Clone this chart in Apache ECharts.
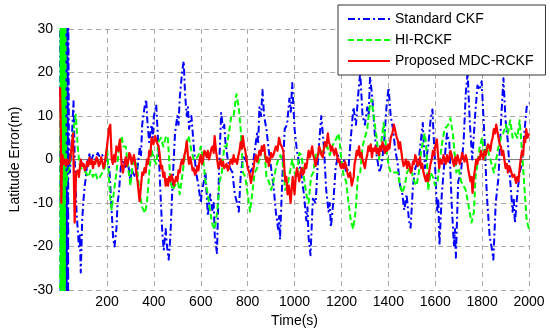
<!DOCTYPE html>
<html>
<head>
<meta charset="utf-8">
<script src="https://cdn.jsdelivr.net/npm/echarts@6/dist/echarts.min.js"></script>
<style>
html,body{margin:0;padding:0;background:#fff;}
#chart{width:550px;height:333px;}
</style>
</head>
<body>
<div id="chart"></div>
<script>
const seriesNames = ['Standard CKF', 'HI-RCKF', 'Proposed MDC-RCKF'];
const xTicks = [200, 400, 600, 800, 1000, 1200, 1400, 1600, 1800, 2000];
const yTicks = [-30, -20, -10, 0, 10, 20, 30];

// [time (s), latitude error (m)]
const standardCKF = [[0,40],[2,-40],[4,40],[6,-40],[8,40],[10,-40],[12,40],[14,-40],[16,40],[18,-40],[20,40],[22,-40],[24,40],[26,-40],[28,40],[30,-40],[32,40],[34,-40],[35,30],[38,-2],[42,-3],[50,5],[57,13.4],[63,-2],[70,-12],[75,-16],[80,-20],[84,-17],[88,-26],[94,-14],[100,-9],[105,-6],[110,-4],[115,-1],[120,0],[125,1.2],[130,-1],[140,1],[150,0],[160,1.5],[170,0.5],[180,1],[190,0],[200,0],[210,-2],[220,-12],[226,-18],[232,-20],[240,-16],[245,-10],[250,-8],[260,-1],[270,0],[280,-2],[290,-1],[300,-5],[305,-2],[310,-3],[320,-4],[330,-2],[340,3],[345,1],[350,8],[360,12],[367,13.8],[373,8],[380,4],[385,6],[390,8],[395,5],[400,10],[410,12.6],[420,2],[430,-10],[436,-17],[442,-20.7],[450,-16],[456,-20],[463,-23],[470,-18],[480,-5],[490,6],[500,10],[505,8],[510,14],[520,20],[527,22.6],[533,15],[540,10],[545,12],[550,7],[560,10],[570,3],[580,-3],[590,-6],[600,-10],[605,-7],[610,-6],[620,-3],[630,-13],[640,-8],[650,-12],[655,-10],[660,-18],[669,-21.5],[678,-2],[687,10.7],[695,7],[700,8],[705,4],[715,0],[725,-2],[735,-3],[745,-8],[755,-10],[762,-12],[770,-4],[780,1],[790,0],[800,-1],[810,-3],[820,-2],[830,2],[840,6],[845,4],[850,12],[857,10],[863,16],[870,10],[880,7],[890,2],[900,-2],[910,-6],[920,-12],[930,-16],[934,-13],[938,-18.4],[948,-4],[958,7],[968,8],[978,14],[984,11],[990,17.6],[1000,7],[1010,2],[1020,-1],[1030,-4],[1040,-8],[1050,-14],[1055,-11],[1060,-18],[1068,-22],[1078,-9],[1090,-10],[1100,0],[1108,6],[1114,10],[1125,3],[1135,-7],[1145,-12],[1150,-10],[1155,-15.5],[1165,-10],[1175,-2],[1185,1],[1195,-1],[1210,0],[1220,-3],[1230,-2],[1240,5],[1251,12],[1262,8],[1270,14],[1280,20],[1290,10],[1300,8],[1310,12],[1316,10],[1322,19],[1332,14],[1342,6],[1350,1],[1362,-3],[1372,-1],[1382,4],[1392,12],[1401,16.5],[1410,10],[1420,7],[1430,2],[1440,-1],[1450,-6],[1460,-8],[1468,-11.6],[1478,-8],[1488,-14],[1495,-15.7],[1505,-6],[1515,-2],[1530,0],[1540,5],[1547,8.4],[1556,-2],[1570,3],[1580,9],[1588,11.5],[1598,0],[1608,-12],[1613,-9],[1618,-19.7],[1628,-8],[1640,0],[1650,6],[1660,4],[1670,-10],[1680,-20],[1684,-16],[1688,-22.6],[1698,-5],[1710,-3],[1722,5],[1730,15],[1738,20],[1748,8],[1758,0],[1770,10],[1780,17],[1790,16],[1798,18],[1810,5],[1820,-8],[1832,-17.6],[1840,-20],[1848,-23],[1858,-10],[1870,-4],[1880,8],[1891,18.7],[1900,9],[1910,4],[1920,-5],[1930,-12],[1935,-9],[1940,-14.6],[1950,-8],[1960,-3],[1970,-1],[1980,6],[1990,12],[2000,13]];

const hiRCKF = [[0,-40],[2,40],[4,-40],[6,40],[8,-40],[10,40],[12,-40],[14,40],[16,-40],[18,40],[20,-40],[22,40],[23,30],[26,-6],[32,-3],[40,-2],[50,3],[60,8],[67,10.3],[75,3],[82,-1],[90,-2],[100,-2.5],[110,-3],[120,-4],[130,-2.5],[140,-4],[150,-3],[160,-4.6],[170,-4],[180,-3],[190,-2],[200,3],[207,-3],[214,-9],[220,-11.5],[228,-8],[240,-3],[250,2],[262,5.4],[270,3],[280,3],[290,-2],[300,-6],[310,-1],[320,0],[330,-3],[340,-8],[350,-11],[362,-12.3],[370,-10],[380,-3],[390,2.3],[400,0],[410,-1],[420,4],[430,5],[440,3],[450,5],[459,5.4],[470,-5],[480,-7],[490,-6],[500,-4],[510,-8],[520,-4],[530,0],[540,4],[548,5.4],[560,2],[570,0],[580,0],[590,1],[600,3],[610,0],[620,-5],[630,-8],[640,-12],[650,-15],[659,-16],[670,-12],[680,-5],[690,-3],[700,3],[710,3],[720,6],[730,10],[740,10],[752,15],[762,12],[770,7],[780,-3],[790,-4],[800,-8],[810,-12],[818,-12.3],[830,-3],[840,-2],[850,0],[860,3],[870,3],[880,-4],[890,-5],[900,-7],[910,-5],[920,-2],[930,0],[940,1],[950,-1],[960,-7],[970,-6],[980,-3],[990,0],[1000,-3],[1010,-4],[1020,1.5],[1030,1],[1040,-4],[1050,-8],[1060,-10],[1070,-4],[1080,-3],[1090,1],[1100,1.5],[1110,1.5],[1120,2],[1130,2],[1140,3],[1150,1],[1160,3],[1170,4],[1180,5],[1188,6],[1200,0],[1210,-4],[1220,-5],[1230,-10],[1240,-14],[1250,-16],[1260,-12],[1270,-4],[1280,-3],[1290,3],[1300,5],[1310,7],[1320,12],[1328,13.8],[1340,9],[1350,5],[1360,0],[1370,4],[1380,8.4],[1390,3],[1400,-1],[1410,-3],[1420,-3],[1430,-3],[1440,-3],[1450,-6],[1460,-7.7],[1470,-6],[1480,-3],[1490,-2],[1500,-3],[1510,-5],[1520,-6],[1530,-3],[1540,2],[1555,6],[1562,3],[1570,-7],[1580,-3],[1590,-4],[1600,-6],[1610,-5],[1620,0],[1630,4],[1640,7],[1656,8],[1665,9.5],[1675,6],[1685,0],[1690,-3],[1700,-2],[1710,-5],[1720,-6],[1730,-7],[1740,-10],[1755,-14.5],[1765,-12],[1772,-4],[1780,-1],[1790,3],[1800,5],[1810,0],[1820,3],[1830,1],[1840,-1],[1850,-3],[1860,0],[1870,3],[1880,5],[1890,6],[1902,8],[1910,6],[1920,9],[1930,5],[1940,6],[1950,5],[1960,9],[1970,2],[1980,-6],[1990,-14],[2000,-16]];

const proposedMDC = [[0,16.6],[3,6],[5,-10],[7,-2],[10,1],[15,-1],[20,0],[25,-1.5],[30,0],[35,-1],[40,-0.5],[47,2],[55,6],[62,-14.5],[68,-3],[75,-2.5],[80,-4],[88,0],[95,-1.5],[100,-1],[105,-2.5],[110,-2],[115,-0.5],[120,-1.5],[125,0.4],[130,-1],[135,0],[140,-2],[145,-0.5],[150,-1],[155,0.5],[160,0],[165,-1.5],[170,-1],[175,0.5],[180,-0.5],[185,-2],[190,-1],[200,3],[208,7],[214,8],[220,0],[225,-1],[230,1],[235,-0.5],[240,3],[248,2],[255,4.6],[262,-1],[268,-3],[274,-1],[280,0.5],[285,-1.5],[290,-0.5],[295,1.5],[300,1],[305,-1],[310,0],[315,1],[320,-1],[325,-3],[330,-5],[339,-9.6],[345,-6],[350,-3],[355,-3.5],[360,-2],[365,-3],[370,0],[375,-1],[380,2],[385,1],[390,5],[398,3.5],[405,5.4],[412,4],[420,3],[425,1],[430,-2],[435,-1.5],[440,-4],[445,-3],[450,-6],[455,-4.5],[460,-6],[465,-4],[470,-5],[475,-3.5],[480,-4.5],[485,-6],[490,-5],[495,-4],[500,-5],[505,-2.5],[510,-3],[515,-1],[520,0],[525,-1],[530,1],[535,2],[540,4.2],[545,1],[550,-1],[555,0.5],[560,-1],[565,-2.5],[570,-2],[575,-3.5],[580,-3],[585,-1.5],[590,-2.5],[595,0],[600,1],[605,-1],[610,0],[615,2],[620,1.5],[625,0.5],[630,2],[635,0],[640,1],[645,2.5],[650,3],[655,1.5],[659,5.4],[665,2],[670,0],[675,-2],[680,-1],[685,0],[690,-1.5],[695,-0.5],[700,-2],[705,-1.5],[710,-1],[715,-2.5],[720,-2],[725,-0.5],[730,0],[735,-1],[740,1],[745,-0.5],[750,0],[755,-1],[760,0.8],[765,2],[770,4],[775,2.5],[779,5.4],[785,3],[790,2],[795,0],[800,-2],[807,-3],[814,-5.4],[822,-3],[830,0],[835,1],[840,-0.5],[845,0.5],[850,2],[855,1],[860,3],[865,2],[870,3.3],[875,1],[880,-0.5],[885,0.5],[890,-1.5],[895,0],[900,1.5],[905,0.5],[910,1],[915,2],[920,3],[927,2],[934,5],[940,3.5],[945,3],[952,2],[960,-5],[965,-4],[970,-8],[976,-6],[983,-10],[992,-4],[996,-6],[1000,-8],[1005,-4],[1010,-2],[1015,-3.5],[1020,-5],[1025,-3],[1030,-2],[1035,-3.5],[1040,-3],[1045,-1],[1050,-2],[1055,0],[1060,2],[1065,0.5],[1070,1.5],[1075,3],[1080,1],[1085,0],[1090,-1.5],[1095,0],[1100,1],[1105,3],[1110,2],[1115,1],[1120,0.5],[1125,2.5],[1130,4],[1136,3],[1142,6],[1146,4],[1150,3.5],[1155,2],[1160,3],[1165,2],[1170,1],[1175,2.5],[1180,1.5],[1185,-0.5],[1190,0],[1195,-1.5],[1200,-2],[1205,-1],[1210,-2],[1215,-0.5],[1220,-1.5],[1225,-3],[1230,-4],[1237,-3],[1244,-6],[1252,-4],[1256,-1],[1260,0],[1265,2],[1270,1],[1275,3],[1280,0.5],[1285,1.5],[1290,0],[1295,-1],[1300,-2],[1305,0],[1310,1],[1315,3],[1320,2],[1325,3.5],[1330,0.5],[1335,2.5],[1340,2],[1345,3],[1350,1.5],[1355,2.5],[1360,1],[1365,3],[1370,2],[1375,4],[1380,3],[1385,1.5],[1390,3],[1395,2],[1400,3.5],[1405,2.5],[1410,5],[1417,6],[1424,8],[1432,6],[1436,5],[1440,4.5],[1445,2.5],[1450,4],[1455,2],[1460,0],[1465,-1.5],[1470,-1],[1475,0],[1480,-2],[1485,-0.5],[1490,-1],[1495,-3],[1500,-2.5],[1505,-0.5],[1510,-1],[1515,1],[1520,0],[1525,-1.5],[1530,-1],[1535,0.5],[1540,-2],[1545,-1],[1550,-3],[1555,-4],[1560,-5],[1565,-3.5],[1570,-5],[1575,-2.5],[1580,-1],[1585,0],[1590,2],[1595,1],[1600,3],[1607,4.6],[1612,1],[1617,-2],[1622,0],[1630,-1],[1635,1],[1640,0],[1645,-1],[1650,1],[1655,-0.5],[1660,0.5],[1665,2],[1670,1],[1675,-0.5],[1680,-1.5],[1685,0.5],[1690,-1],[1695,1],[1700,0],[1705,-1],[1710,0],[1715,1.5],[1720,0.5],[1725,-0.5],[1730,1],[1735,0],[1740,-2],[1745,-3.5],[1750,-5],[1755,-4],[1759,-7.7],[1765,-4],[1770,-2],[1775,0],[1780,-1],[1785,0.5],[1790,0],[1795,2],[1800,1],[1805,0],[1810,2],[1815,1],[1820,2],[1825,3.5],[1830,3],[1835,2],[1840,4],[1845,5],[1850,7],[1855,6],[1860,8],[1865,6.5],[1870,5],[1875,3.5],[1880,3],[1885,1],[1890,2],[1895,0],[1900,-2],[1905,-1],[1910,-3],[1915,-1.5],[1920,-2],[1925,-3],[1930,-4],[1937,-3.5],[1945,-5.4],[1950,-4],[1955,-5],[1962,-1],[1970,2],[1975,1],[1980,5],[1984,4],[1988,7],[1994,5],[2000,6]];

const FONT = '"Liberation Sans", Arial, sans-serif';
const chart = echarts.init(document.getElementById('chart'), null, {renderer: 'canvas'});

const lineSeries = (name, data, color, type, width, z) => ({
  name, type: 'line', data, showSymbol: false, symbol: 'none', z,
  animation: false, clip: true,
  itemStyle: {color},
  lineStyle: {color, width, type, cap: 'butt', join: 'round'}
});

chart.setOption({
  animation: false,
  backgroundColor: '#ffffff',
  grid: {left: 54, right: 21, top: 29, bottom: 43, show: false},
  legend: {
    data: seriesNames,
    orient: 'vertical',
    left: 338, top: 5,
    padding: [7, 12, 7, 9],
    itemWidth: 42, itemHeight: 14, itemGap: 7,
    backgroundColor: '#ffffff',
    borderColor: '#333333', borderWidth: 1,
    itemStyle: {opacity: 0},
    textStyle: {fontFamily: FONT, fontSize: 14, color: '#000'}
  },
  xAxis: [{
    type: 'value', min: 0, max: 2000, interval: 200,
    name: 'Time(s)', nameLocation: 'middle', nameGap: 22,
    nameTextStyle: {fontFamily: FONT, fontSize: 14, color: '#000'},
    axisLine: {lineStyle: {color: '#808080', width: 1}},
    axisTick: {inside: true, length: 4, lineStyle: {color: '#808080'}},
    axisLabel: {showMinLabel: false, fontFamily: FONT, fontSize: 14, color: '#000', margin: 5,
      formatter: v => xTicks.includes(v) ? String(v) : ''},
    splitLine: {show: true, lineStyle: {color: '#a8a8a8', type: [5, 4], width: 1}}
  }, {
    type: 'value', min: 0, max: 2000, interval: 200, position: 'top',
    axisLine: {show: true, lineStyle: {color: '#808080', width: 1}},
    axisTick: {show: false}, axisLabel: {show: false}, splitLine: {show: false}
  }],
  yAxis: [{
    type: 'value', min: -30, max: 30, interval: 10,
    name: 'Latitude Error(m)', nameLocation: 'middle', nameGap: 36,
    nameTextStyle: {fontFamily: FONT, fontSize: 14, color: '#000'},
    axisLine: {show: true, lineStyle: {color: '#808080', width: 1}},
    axisTick: {inside: true, length: 4, lineStyle: {color: '#808080'}},
    axisLabel: {fontFamily: FONT, fontSize: 14, color: '#000', margin: 7,
      formatter: v => yTicks.includes(v) ? String(v) : ''},
    splitLine: {show: true, lineStyle: {color: '#a8a8a8', type: [5, 4], width: 1}}
  }, {
    type: 'value', min: -30, max: 30, interval: 10, position: 'right',
    axisLine: {show: true, lineStyle: {color: '#808080', type: [5, 4], width: 1}},
    axisTick: {show: false}, axisLabel: {show: false}, splitLine: {show: false}
  }],
  series: [
    lineSeries(seriesNames[0], standardCKF, '#0000ff', [7, 3, 2, 3], 2, 2),
    lineSeries(seriesNames[1], hiRCKF, '#00ff00', [6, 3], 2, 3),
    lineSeries(seriesNames[2], proposedMDC, '#ff0000', 'solid', 2.2, 4)
  ]
});
</script>
</body>
</html>
